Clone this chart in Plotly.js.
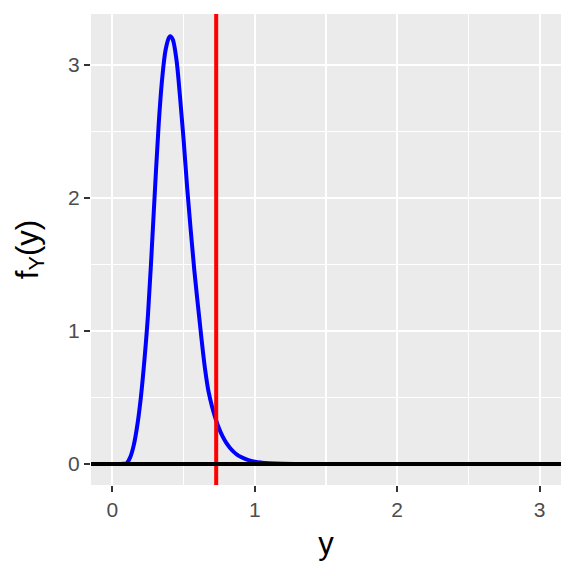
<!DOCTYPE html>
<html>
<head>
<meta charset="utf-8">
<script src="https://cdn.plot.ly/plotly-3.0.1.min.js"></script>
<style>html,body{margin:0;padding:0;background:#fff;}#chart{width:576px;height:576px;}</style>
</head>
<body>
<div id="chart"></div>
<script>
// Density curve f_Y(y)
const yVals = [0.00, 0.05, 0.08, 0.10, 0.125, 0.15, 0.175, 0.20, 0.225, 0.25, 0.275, 0.30, 0.325, 0.35, 0.375, 0.40, 0.41, 0.425, 0.45, 0.475, 0.50, 0.525, 0.55, 0.575, 0.60, 0.625, 0.65, 0.675, 0.70, 0.725, 0.75, 0.775, 0.80, 0.825, 0.85, 0.875, 0.90, 0.95, 1.00, 1.05, 1.10, 1.20, 1.35, 1.50, 2.00, 2.50, 3.00];
const density = [0, 0, 0.001, 0.005, 0.05, 0.14, 0.29, 0.50, 0.78, 1.12, 1.58, 2.08, 2.55, 2.90, 3.12, 3.21, 3.215, 3.19, 3.04, 2.76, 2.44, 2.08, 1.76, 1.46, 1.20, 0.95, 0.72, 0.545, 0.43, 0.34, 0.265, 0.205, 0.158, 0.122, 0.093, 0.071, 0.054, 0.031, 0.017, 0.010, 0.006, 0.002, 0.0005, 0, 0, 0, 0];
const cutoff = 0.729;      // red vertical line
const baseline = 0;        // black horizontal line
const tickVals = [0, 1, 2, 3];
const tickText = ["0", "1", "2", "3"];

const traces = [{
  x: yVals, y: density, type: 'scatter', mode: 'lines',
  line: {color: '#0000FF', width: 4, shape: 'spline', smoothing: 1},
  hoverinfo: 'skip', showlegend: false
}];

const layout = {
  width: 576, height: 576,
  margin: {l: 91, r: 15, t: 14, b: 91},
  paper_bgcolor: '#FFFFFF', plot_bgcolor: '#EBEBEB',
  font: {family: 'Liberation Sans, Arial, sans-serif'},
  showlegend: false,
  xaxis: {
    range: [-0.15, 3.15], tickvals: tickVals, ticktext: tickText,
    showgrid: true, gridcolor: '#FFFFFF', gridwidth: 2.2, zeroline: false,
    minor: {dtick: 0.5, tick0: 0, showgrid: true, gridcolor: '#FFFFFF', gridwidth: 1.1, ticks: ''},
    ticks: 'outside', ticklen: 6, tickwidth: 2.2, tickcolor: '#333333',
    tickfont: {size: 21, color: '#4D4D4D'},
    showline: false,
    title: {text: 'y', font: {size: 31, color: '#000000'}, standoff: 12},
    automargin: false
  },
  yaxis: {
    range: [-0.158, 3.383], tickvals: tickVals, ticktext: tickText,
    showgrid: true, gridcolor: '#FFFFFF', gridwidth: 2.2, zeroline: false,
    minor: {dtick: 0.5, tick0: 0, showgrid: true, gridcolor: '#FFFFFF', gridwidth: 1.1, ticks: ''},
    ticks: 'outside', ticklen: 6, tickwidth: 2.2, tickcolor: '#333333',
    tickfont: {size: 21, color: '#4D4D4D'},
    showline: false,
    title: {text: 'f<sub>Y</sub>(y)', font: {size: 31, color: '#000000'}, standoff: 20},
    automargin: false
  },
  shapes: [
    {type: 'line', xref: 'x', yref: 'paper', x0: cutoff, x1: cutoff, y0: 0, y1: 1,
     line: {color: '#FF0000', width: 4}, layer: 'above'},
    {type: 'line', xref: 'paper', yref: 'y', x0: 0, x1: 1, y0: baseline, y1: baseline,
     line: {color: '#000000', width: 4}, layer: 'above'}
  ]
};

Plotly.newPlot('chart', traces, layout, {staticPlot: true, displayModeBar: false});
</script>
</body>
</html>
